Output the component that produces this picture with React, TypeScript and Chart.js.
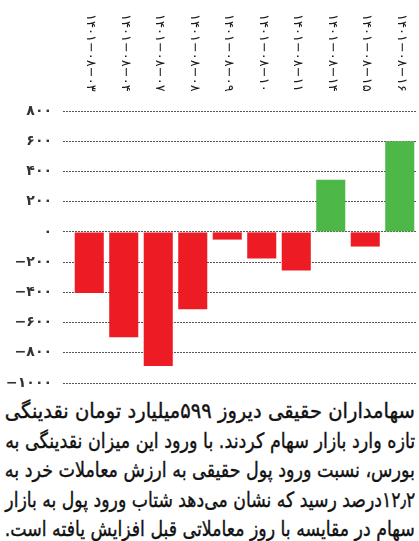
import React, { useEffect, useLayoutEffect, useRef } from 'react';
import { Chart, registerables } from 'chart.js';

Chart.register(...registerables);

const categories = [
  '۱۴۰۱−۰۸−۰۳',
  '۱۴۰۱−۰۸−۰۴',
  '۱۴۰۱−۰۸−۰۷',
  '۱۴۰۱−۰۸−۰۸',
  '۱۴۰۱−۰۸−۰۹',
  '۱۴۰۱−۰۸−۱۰',
  '۱۴۰۱−۰۸−۱۱',
  '۱۴۰۱−۰۸−۱۴',
  '۱۴۰۱−۰۸−۱۵',
  '۱۴۰۱−۰۸−۱۶',
];
const values = [-405, -697, -888, -512, -51, -176, -255, 345, -97, 599];

const yTickValues = [-1000, -800, -600, -400, -200, 0, 200, 400, 600, 800];
const yTickLabels = ['−۱۰۰۰', '−۸۰۰', '−۶۰۰', '−۴۰۰', '−۲۰۰', '۰', '۲۰۰', '۴۰۰', '۶۰۰', '۸۰۰'];

const paragraphLines = [
  'سهامداران حقیقی دیروز ۵۹۹میلیارد تومان نقدینگی',
  'تازه وارد بازار سهام کردند. با ورود این میزان نقدینگی به',
  'بورس، نسبت ورود پول حقیقی به ارزش معاملات خرد به',
  '۱۲٫۲درصد رسید که نشان می‌دهد شتاب ورود پول به بازار',
  'سهام در مقایسه با روز معاملاتی قبل افزایش یافته است.',
];

const RED = '#ED1C24';
const GREEN = '#4DB848';
const PERSIAN_FONT = '"DejaVu Sans", sans-serif';
const TEXT_WIDTH = 410;

export default function App() {
  const canvasRef = useRef<HTMLCanvasElement | null>(null);
  const lineRefs = useRef<(HTMLSpanElement | null)[]>([]);

  useLayoutEffect(() => {
    lineRefs.current.forEach((el) => {
      if (!el) return;
      el.style.transform = '';
      const w = el.getBoundingClientRect().width;
      if (w > 0) el.style.transform = `scaleX(${TEXT_WIDTH / w})`;
    });
  }, []);

  useEffect(() => {
    document.body.style.margin = '0';
    const canvas = canvasRef.current;
    if (!canvas) return;

    const topLabels = {
      id: 'topLabels',
      afterDraw(chart: any) {
        const ctx = chart.ctx;
        const xs = chart.scales.x;
        ctx.save();
        ctx.font = '13px ' + PERSIAN_FONT;
        ctx.fillStyle = '#1a1a1a';
        ctx.textAlign = 'left';
        ctx.textBaseline = 'middle';
        categories.forEach((c, i) => {
          const px = xs.getPixelForValue(i);
          ctx.save();
          ctx.translate(px + 1.5, 14);
          ctx.rotate(Math.PI / 2);
          ctx.fillText(c, 0, 0);
          ctx.restore();
        });
        ctx.restore();
      },
    };

    const chart = new Chart(canvas, {
      type: 'bar',
      data: {
        labels: categories,
        datasets: [
          {
            data: values,
            backgroundColor: values.map((v) => (v >= 0 ? GREEN : RED)),
            borderWidth: 0,
            barPercentage: 0.842,
            categoryPercentage: 1,
          },
        ],
      },
      options: {
        animation: false,
        responsive: false,
        maintainAspectRatio: false,
        layout: { padding: { top: 111, right: 2, bottom: 7, left: 0 } },
        plugins: {
          legend: { display: false },
          tooltip: { enabled: false },
          title: { display: false },
        },
        scales: {
          x: {
            display: false,
          },
          y: {
            min: -1000,
            max: 800,
            afterFit(scale: any) {
              scale.width = 72;
              scale.paddingTop = 0;
              scale.paddingBottom = 0;
            },
            afterBuildTicks(scale: any) {
              scale.ticks = yTickValues.map((v) => ({ value: v }));
            },
            ticks: {
              padding: 11,
              color: '#333',
              font: { family: PERSIAN_FONT, size: 14, weight: 'bold' },
              callback: (v: any) => {
                const idx = yTickValues.indexOf(Number(v));
                return idx >= 0 ? yTickLabels[idx] : '';
              },
            },
            grid: {
              color: '#555',
              lineWidth: 1,
              tickLength: 9,
              tickColor: '#555',
              tickBorderDash: [2, 1],
            },
            border: { display: false, dash: [2, 1] },
          },
        },
      },
      plugins: [topLabels],
    });

    return () => chart.destroy();
  }, []);

  return (
    <div style={{ position: 'relative', width: 419, height: 541, background: '#fff', overflow: 'hidden' }}>
      <canvas
        ref={canvasRef}
        width={419}
        height={390}
        style={{ position: 'absolute', left: 0, top: 0, width: 419, height: 390 }}
      />
      <div
        dir="rtl"
        style={{
          position: 'absolute',
          left: 5,
          top: 397,
          width: TEXT_WIDTH,
          fontFamily: PERSIAN_FONT,
          fontSize: 21,
          color: '#111',
          textAlign: 'right',
          WebkitTextStroke: '0.4px #111',
        }}
      >
        {paragraphLines.map((line, i) => (
          <div key={i} style={{ height: 29.5, lineHeight: '29.5px', whiteSpace: 'nowrap' }}>
            <span
              ref={(el) => {
                lineRefs.current[i] = el;
              }}
              style={{ display: 'inline-block', transformOrigin: 'right center', whiteSpace: 'nowrap' }}
            >
              {line}
            </span>
          </div>
        ))}
      </div>
    </div>
  );
}
